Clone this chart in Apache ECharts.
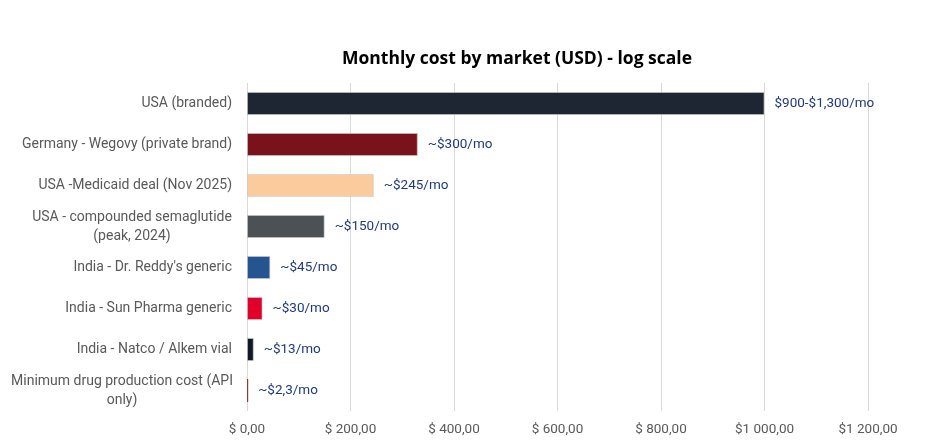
<!DOCTYPE html>
<html>
<head>
<meta charset="utf-8">
<script src="https://cdn.jsdelivr.net/npm/echarts@6/dist/echarts.min.js"></script>
<style>
  html, body { margin: 0; padding: 0; background: #fff; }
  #main { width: 936px; height: 445px; }
</style>
</head>
<body>
<div id="main"></div>
<script>
// values (USD per month)
const markets = [
  'USA (branded)',
  'Germany - Wegovy (private brand)',
  'USA -Medicaid deal (Nov 2025)',
  'USA - compounded semaglutide\n(peak, 2024)',
  "India - Dr. Reddy's generic",
  'India - Sun Pharma generic',
  'India - Natco / Alkem vial',
  'Minimum drug production cost (API\nonly)'
];
const costs = [1000, 330, 245, 150, 45, 30, 13, 2.3];
const costLabels = ['$900-$1,300/mo', '~$300/mo', '~$245/mo', '~$150/mo', '~$45/mo', '~$30/mo', '~$13/mo', '~$2,3/mo'];
const barColors = ['#1E2633', '#7A121C', '#FBCB9D', '#4B5155', '#245591', '#E0002A', '#121826', '#8B3A3A'];
const tickLabels = { 0: '$ 0,00', 200: '$ 200,00', 400: '$ 400,00', 600: '$ 600,00', 800: '$ 800,00', 1000: '$1 000,00', 1200: '$1 200,00' };

const chart = echarts.init(document.getElementById('main'));

const options = {
    animation: false,
    title: {
        text: 'Monthly cost by market (USD) - log scale',
        left: 512,
        textAlign: 'center',
        top: 45,
        textStyle: {
            fontFamily: 'Open Sans',
            fontSize: 17.5,
            fontWeight: 'bold',
            color: '#000'
        }
    },
    grid: {
        left: 247,
        right: 68,
        top: 83,
        bottom: 34,
        containLabel: false
    },
    xAxis: {
        type: 'value',
        min: 0,
        max: 1200,
        interval: 200,
        axisLine: { show: false },
        axisTick: { show: false },
        splitLine: {
            lineStyle: { color: '#d9d9d9', width: 1 }
        },
        axisLabel: {
            color: '#595959',
            fontFamily: 'Roboto',
            fontSize: 13.5,
            margin: 12,
            formatter: v => tickLabels[v]
        }
    },
    yAxis: {
        type: 'category',
        inverse: true,
        data: markets,
        axisLine: { show: false },
        axisTick: { show: false },
        splitLine: { show: false },
        axisLabel: {
            color: '#595959',
            fontFamily: 'Roboto',
            fontSize: 14,
            margin: 15,
            lineHeight: 19,
            formatter: v => {
                if (v.indexOf('\n') < 0) return v;
                const tag = v.startsWith('Minimum') ? 'b' : 'a';
                return v.split('\n').map(s => '{' + tag + '|' + s + '}').join('\n');
            },
            rich: {
                a: { width: 200, align: 'center', color: '#595959', fontFamily: 'Roboto', fontSize: 14, lineHeight: 19 },
                b: { width: 220, align: 'center', color: '#595959', fontFamily: 'Roboto', fontSize: 14, lineHeight: 19 }
            }
        }
    },
    series: [
        {
            name: 'Monthly cost',
            type: 'bar',
            barWidth: 23,
            barMinWidth: 1,
            data: costs.map((v, i) => ({
                value: v,
                itemStyle: i === costs.length - 1
                    ? { color: barColors[i], borderWidth: 0 }
                    : { color: barColors[i] }
            })),
            itemStyle: {
                borderColor: 'rgba(200,200,200,0.6)',
                borderWidth: 1
            },
            label: {
                show: true,
                position: 'right',
                distance: 10,
                color: '#1F3A7A',
                fontFamily: 'Roboto',
                fontSize: 13.5,
                formatter: p => costLabels[p.dataIndex]
            }
        }
    ]
};

chart.setOption(options);
</script>
</body>
</html>
